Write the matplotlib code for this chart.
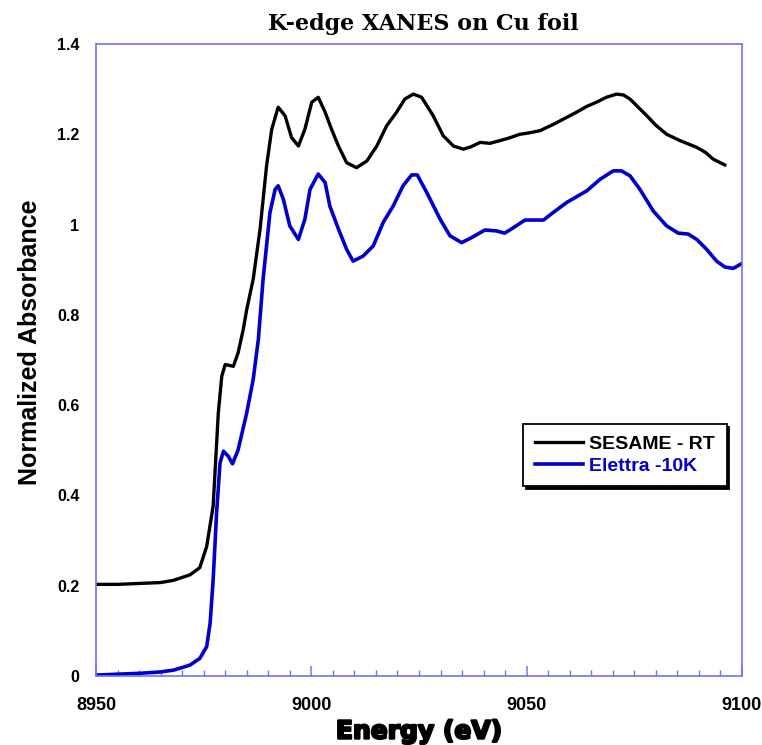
import matplotlib
matplotlib.use("Agg")
import matplotlib.pyplot as plt
import matplotlib.patheffects as pe
from matplotlib.ticker import MultipleLocator

# SESAME - RT (black)
sesame_e = [8950, 8955, 8960, 8965, 8968, 8971.8, 8974.1, 8975.7, 8977.2, 8978.4, 8979.2,
            8980.0, 8981.9, 8983.0, 8984.2, 8985.0, 8986.5, 8988.1, 8989.6, 8990.8, 8992.3,
            8993.9, 8995.4, 8997.0, 8998.5, 9000.1, 9001.6, 9003.2, 9004.7, 9006.3, 9008.2,
            9010.5, 9012.9, 9015.2, 9017.5, 9019.8, 9021.7, 9023.7, 9025.6, 9028.3, 9030.6,
            9033.0, 9035.3, 9037.0, 9039.2, 9041.5, 9043.8, 9046.0, 9048.4, 9050.5, 9053.1,
            9056.2, 9058.8, 9061.6, 9064.0, 9066.2, 9068.5, 9070.9, 9072.5, 9074.0, 9077.9,
            9080.0, 9082.5, 9085.6, 9089.5, 9091.5, 9093.3, 9096.0]
sesame_mu = [0.203, 0.203, 0.205, 0.207, 0.212, 0.224, 0.240, 0.287, 0.376, 0.583, 0.664,
             0.690, 0.686, 0.716, 0.768, 0.812, 0.879, 0.990, 1.130, 1.211, 1.260,
             1.241, 1.193, 1.174, 1.211, 1.271, 1.282, 1.249, 1.211, 1.174, 1.137,
             1.126, 1.141, 1.174, 1.219, 1.249, 1.278, 1.289, 1.282, 1.241, 1.197,
             1.174, 1.167, 1.172, 1.182, 1.180, 1.186, 1.192, 1.200, 1.203, 1.208,
             1.222, 1.235, 1.249, 1.262, 1.271, 1.282, 1.289, 1.287, 1.278, 1.241,
             1.220, 1.200, 1.186, 1.171, 1.160, 1.145, 1.132]

# Elettra -10K (blue)
elettra_e = [8950, 8955, 8960.2, 8965, 8968, 8971.8, 8974.1, 8975.7, 8976.5, 8977.2, 8978.0,
             8978.8, 8979.6, 8980.7, 8981.7, 8983.0, 8985.0, 8986.5, 8987.7, 8988.8, 8990.4,
             8991.6, 8992.3, 8993.5, 8995.0, 8997.0, 8998.5, 8999.7, 9001.6, 9003.2, 9004.3,
             9006.3, 9008.2, 9009.7, 9012.0, 9014.4, 9016.7, 9019.0, 9021.3, 9023.3, 9024.6,
             9026.8, 9029.9, 9032.2, 9034.9, 9037.2, 9040.3, 9043.0, 9044.9, 9046.9, 9049.6,
             9053.9, 9056.2, 9059.3, 9064.0, 9067.0, 9070.1, 9072.0, 9074.0, 9076.3, 9079.4,
             9082.5, 9085.2, 9087.5, 9089.5, 9091.8, 9094.1, 9096.0, 9098.0, 9100.0]
elettra_mu = [0.002, 0.004, 0.006, 0.009, 0.013, 0.024, 0.039, 0.065, 0.117, 0.213, 0.361,
              0.472, 0.498, 0.487, 0.470, 0.501, 0.583, 0.657, 0.746, 0.879, 1.027,
              1.078, 1.086, 1.056, 0.997, 0.967, 1.012, 1.078, 1.112, 1.093, 1.041,
              0.990, 0.945, 0.919, 0.930, 0.953, 1.005, 1.041, 1.086, 1.110, 1.110,
              1.071, 1.012, 0.975, 0.960, 0.971, 0.988, 0.986, 0.981, 0.993, 1.010,
              1.010, 1.027, 1.049, 1.075, 1.100, 1.119, 1.119, 1.108, 1.078, 1.030,
              0.997, 0.981, 0.979, 0.967, 0.945, 0.919, 0.906, 0.903, 0.914]

series_labels = ["SESAME - RT", "Elettra -10K"]
x_ticks = [8950, 9000, 9050, 9100]
y_ticks = [0, 0.2, 0.4, 0.6, 0.8, 1.0, 1.2, 1.4]
y_ticklabels = ["0", "0.2", "0.4", "0.6", "0.8", "1", "1.2", "1.4"]

frame_col = "#7070ff"
blue = "#0000cc"
fig = plt.figure(figsize=(7.62, 7.45), dpi=100)
ax = fig.add_axes([96/762, 69/745, 646/762, 632/745])

ax.plot(sesame_e, sesame_mu, color="black", lw=2.4, label=series_labels[0], solid_joinstyle="round")
ax.plot(elettra_e, elettra_mu, color=blue, lw=2.6, label=series_labels[1], solid_joinstyle="round")

ax.set_xlim(8950, 9100)
ax.set_ylim(0, 1.4)
ax.set_xticks(x_ticks)
ax.xaxis.set_minor_locator(MultipleLocator(5))
ax.set_yticks(y_ticks)
ax.set_yticklabels(y_ticklabels)
for sp in ax.spines.values():
    sp.set_color(frame_col)
    sp.set_linewidth(1.2)
ax.tick_params(axis="x", which="major", direction="in", length=7, color=frame_col, width=1.1, pad=15)
ax.tick_params(axis="x", which="minor", direction="in", length=4, color=frame_col, width=1.0)
ax.tick_params(axis="y", which="both", length=0, pad=12)
for lab in ax.get_xticklabels():
    lab.set_fontfamily("Liberation Sans")
    lab.set_fontweight("bold")
    lab.set_fontsize(13)
for lab in ax.get_yticklabels():
    lab.set_fontfamily("Liberation Sans")
    lab.set_fontweight("bold")
    lab.set_fontsize(11.5)

ax.set_xlabel("Energy (eV)", fontsize=18, fontweight="heavy", family="DejaVu Sans",
              path_effects=[pe.withStroke(linewidth=1.6, foreground="black")])
ax.xaxis.set_label_coords(0.5, -0.069)
ax.set_ylabel("Normalized Absorbance", fontsize=18, fontweight="bold", family="Liberation Sans")
ax.yaxis.set_label_coords(-0.084, 0.528)
fig.text(0.555, 0.968, "K-edge XANES on Cu foil", ha="center", va="center",
         fontsize=16, fontweight="bold", family="DejaVu Serif")

leg = ax.legend(loc="upper left", bbox_to_anchor=((523-96)/646, (676-424)/632),
                frameon=True, fancybox=False, shadow={"color": "black", "alpha": 1},
                edgecolor="black", handlelength=2.5, handletextpad=0.3, borderpad=0.6,
                labelspacing=0.2, borderaxespad=0,
                prop={"family": "Liberation Sans", "weight": "bold", "size": 14})
leg.get_frame().set_linewidth(1.3)
leg.get_texts()[1].set_color(blue)

fig.savefig("out.png", dpi=100)
